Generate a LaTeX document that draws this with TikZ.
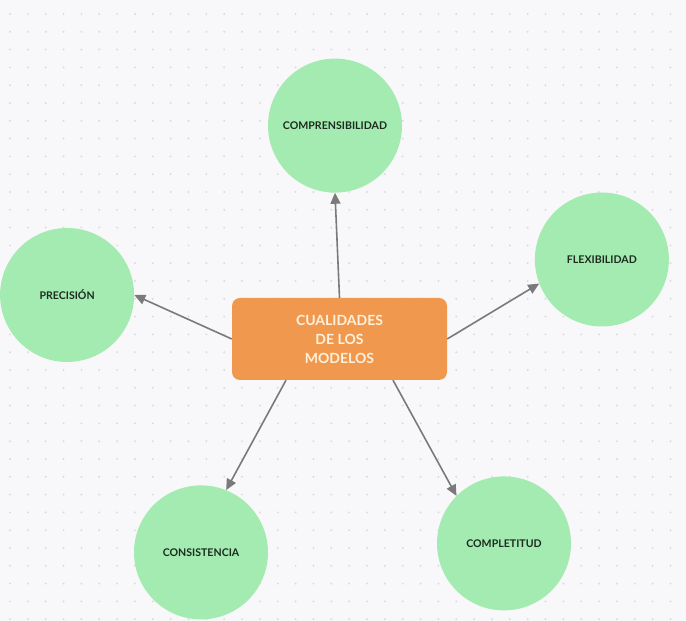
\documentclass[tikz,border=0pt]{standalone}
\usepackage{fontspec}
\setmainfont{Lato}
\usetikzlibrary{positioning,arrows.meta}
\definecolor{boxorange}{HTML}{F0994E}
\definecolor{circgreen}{HTML}{A3EBB1}
\definecolor{txtdark}{HTML}{1C2B1E}
\definecolor{txtlight}{HTML}{FDF0DC}
\definecolor{linegray}{HTML}{7A7A7A}
\definecolor{bgcol}{HTML}{F8F8FA}
\definecolor{dotcol}{HTML}{DCDCE0}
\begin{document}
\begin{tikzpicture}[x=1pt, y=1pt,
		main/.style = {circle, fill=circgreen, minimum size=134pt, inner sep=0pt,
			text=txtdark, font=\fontsize{10.6}{13}\selectfont\bfseries},
		centre/.style = {rectangle, rounded corners=8pt, fill=boxorange, minimum width=215pt,
			minimum height=82pt, align=center, text=txtlight,
			font=\fontsize{14}{19}\selectfont\bfseries},
		arrow/.style = {-{Triangle[length=11pt, width=10pt]}, draw=linegray, fill=linegray, line width=1.6pt}]
			\useasboundingbox (0,0) rectangle (686,621);
			\fill[bgcol] (0,0) rectangle (686,621);
			\foreach \x in {10,27.85,...,686}
				\foreach \y in {607,589.2,...,0}
					\fill[dotcol] (\x,\y) circle (1.1pt);
			
			\node[centre] (box) at (339.5,282) {CUALIDADES\\DE LOS\\MODELOS};
			
			\node[main, above = 105pt of box, xshift=-4.5pt] (comp) {COMPRENSIBILIDAD};
			\node[main, right = 87.5pt of box, yshift=79.5pt] (flex) {FLEXIBILIDAD};
			\node[main, left = 97.5pt of box, yshift=44pt] (prec) {PRECISIÓN};
			\node[main, below = 105pt of box, xshift=-138.5pt] (cons) {CONSISTENCIA};
			\node[main, below = 96pt of box, xshift=164.5pt] (compl) {COMPLETITUD};
			
			\draw[arrow] (box.north) -- (comp.south);
			\draw[arrow] (box.east) -- (flex.201);
			\draw[arrow] (box.west) -- (prec.east);
			\draw[arrow] ([xshift=-53.5pt]box.south) -- (cons.68);
			\draw[arrow] ([xshift=53.5pt]box.south) -- (compl.135);
		\end{tikzpicture}
\end{document}
